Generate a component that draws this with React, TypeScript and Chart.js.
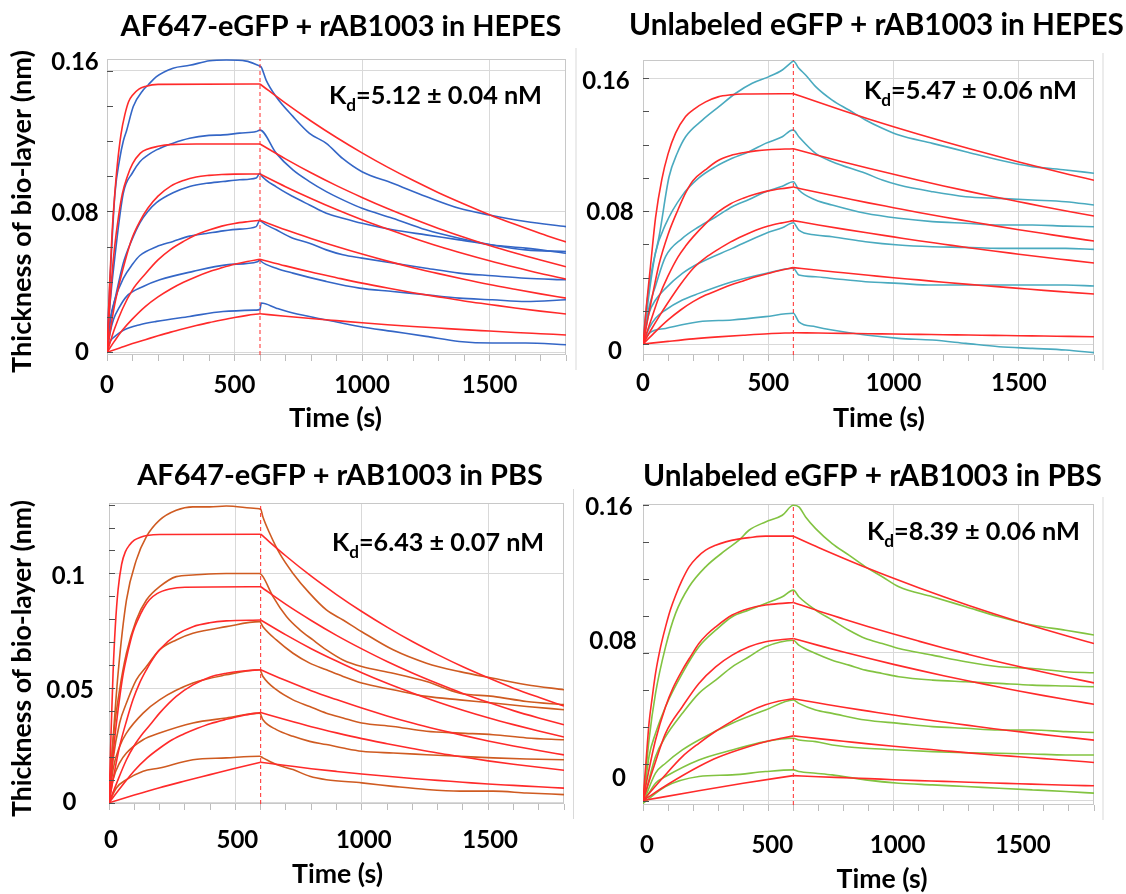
import React, { useEffect, useRef } from "react";
import { Chart, registerables } from "chart.js";
Chart.register(...registerables);

type Pt = [number, number];

const FONT = 'Lato, "Open Sans", "DejaVu Sans", sans-serif';
const FIT_COLOR = "#ff2a2a";
const GRID_COLOR = "#d9d9d9";
const FRAME_COLOR = "#c8c8c8";
const TICK_SIZE = 24;

// ---------- shared axis data ----------
const xTickValues = [0, 500, 1000, 1500];
const xTickLabels = ["0", "500", "1000", "1500"];
const switchTime = 600;
const dissocTimes = [600, 700, 800, 900, 1000, 1100, 1200, 1300, 1400, 1500, 1600, 1700, 1800];

const panelTitles = [
  "AF647-eGFP + rAB1003 in HEPES",
  "Unlabeled eGFP + rAB1003 in HEPES",
  "AF647-eGFP + rAB1003 in PBS",
  "Unlabeled eGFP + rAB1003 in PBS",
];
const kdTexts = ["=5.12 ± 0.04 nM", "=5.47 ± 0.06 nM", "=6.43 ± 0.07 nM", "=8.39 ± 0.06 nM"];
const yAxisTitle = "Thickness of bio-layer (nm)";
const xAxisTitle = "Time (s)";

const p1YTicks = [0, 0.08, 0.16];
const p1YTickLabels = ["0", "0.08", "0.16"];
const p2YTicks = [0, 0.08, 0.16];
const p2YTickLabels = ["0", "0.08", "0.16"];
const p3YTicks = [0, 0.05, 0.1];
const p3YTickLabels = ["0", "0.05", "0.1"];
const p4YTicks = [0, 0.08, 0.16];
const p4YTickLabels = ["0", "0.08", "0.16"];

// ---------- panel 1: AF647-eGFP in HEPES ----------
const p1Traces: Pt[][] = [
  [[0,0],[5,0.02],[15,0.05],[31,0.09],[50,0.11],[64,0.12],[77,0.126],[103,0.1396],[142,0.149],[162,0.152],[194,0.1566],[259,0.1614],[324,0.163],[403,0.1656],[468,0.166],[546,0.1654],[592,0.163],[600,0.1625],[605,0.162],[624,0.1546],[664,0.145],[729,0.134],[794,0.1244],[860,0.1187],[925,0.11],[1000,0.1026],[1120,0.096],[1251,0.0885],[1381,0.0818],[1500,0.078],[1642,0.0743],[1800,0.0714]],
  [[0,0],[5,0.015],[12,0.028],[31,0.0545],[64,0.0904],[100,0.102],[129,0.1083],[160,0.112],[194,0.115],[259,0.1188],[324,0.1216],[400,0.1232],[455,0.1235],[520,0.1245],[585,0.1254],[600,0.1262],[664,0.113],[729,0.1036],[794,0.097],[860,0.0913],[925,0.0866],[1000,0.0818],[1120,0.0762],[1251,0.0696],[1381,0.0648],[1511,0.061],[1642,0.0582],[1800,0.0573]],
  [[0,0],[12,0.0168],[31,0.0299],[64,0.0508],[95,0.063],[129,0.0736],[160,0.08],[194,0.085],[259,0.0906],[324,0.0942],[390,0.096],[455,0.097],[520,0.098],[585,0.099],[600,0.1017],[605,0.1005],[664,0.094],[729,0.0885],[794,0.0837],[860,0.079],[925,0.0762],[1000,0.0733],[1120,0.0696],[1251,0.0667],[1381,0.0639],[1511,0.061],[1642,0.0592],[1800,0.0563]],
  [[0,0],[12,0.018],[31,0.03],[64,0.042],[100,0.05],[129,0.055],[194,0.06],[259,0.063],[324,0.066],[390,0.0675],[455,0.069],[520,0.07],[585,0.0714],[600,0.0752],[605,0.0743],[664,0.0696],[729,0.0648],[794,0.062],[860,0.0582],[925,0.0554],[1000,0.0535],[1120,0.0507],[1251,0.0478],[1381,0.045],[1511,0.0435],[1642,0.0421],[1800,0.0412]],
  [[0,0],[12,0.011],[25,0.0185],[50,0.026],[77,0.0318],[142,0.0374],[207,0.0412],[338,0.046],[468,0.0497],[590,0.0515],[600,0.0525],[605,0.0516],[664,0.0478],[729,0.045],[859,0.0403],[990,0.0365],[1120,0.0346],[1251,0.0327],[1381,0.0308],[1511,0.0299],[1642,0.0289],[1800,0.0299]],
  [[0,0],[12,0.006],[31,0.0091],[64,0.0125],[129,0.0157],[194,0.0176],[324,0.0204],[455,0.0232],[585,0.024],[600,0.0245],[605,0.028],[664,0.0251],[729,0.0223],[859,0.0185],[990,0.0147],[1120,0.0119],[1251,0.0091],[1381,0.0062],[1511,0.0053],[1642,0.0053],[1800,0.0043]],
];
const p1FitAssoc: Pt[][] = [
  [[0,0],[10,0.038],[20,0.068],[30,0.089],[40,0.106],[55,0.124],[70,0.135],[85,0.1425],[100,0.146],[125,0.1495],[150,0.151],[200,0.1522],[600,0.1524]],
  [[0,0],[10,0.025],[20,0.045],[30,0.06],[45,0.077],[60,0.09],[80,0.1],[100,0.107],[130,0.113],[160,0.1155],[200,0.117],[250,0.118],[350,0.1183],[600,0.1183]],
  [[0,0],[15,0.0145],[30,0.027],[50,0.04],[75,0.054],[100,0.0655],[130,0.0747],[160,0.0818],[200,0.0887],[250,0.0944],[300,0.0976],[350,0.0996],[400,0.1005],[450,0.101],[500,0.1012],[600,0.1013]],
  [[0,0],[30,0.0135],[60,0.0245],[100,0.0355],[150,0.0445],[200,0.0525],[250,0.0585],[300,0.063],[350,0.0668],[400,0.0695],[450,0.0717],[500,0.0732],[550,0.0742],[600,0.075]],
  [[0,0],[30,0.0065],[60,0.0125],[100,0.019],[150,0.026],[200,0.0315],[250,0.036],[300,0.0398],[350,0.043],[400,0.0458],[450,0.048],[500,0.05],[550,0.0516],[600,0.0529]],
  [[0,0],[50,0.0025],[100,0.005],[150,0.0072],[200,0.0094],[250,0.0115],[300,0.0134],[350,0.0152],[400,0.0169],[450,0.0184],[500,0.0198],[550,0.021],[600,0.0219]],
];
const p1FitDissoc: number[][] = [
  [0.1524,0.1415,0.1314,0.122,0.1133,0.1052,0.0977,0.0907,0.0843,0.0782,0.0727,0.0675,0.0627],
  [0.1183,0.1099,0.102,0.0947,0.088,0.0817,0.0759,0.0704,0.0654,0.0607,0.0564,0.0524,0.0486],
  [0.1013,0.0941,0.0874,0.0811,0.0753,0.07,0.065,0.0603,0.056,0.052,0.0483,0.0448,0.0416],
  [0.075,0.0696,0.0647,0.0601,0.0558,0.0518,0.0481,0.0447,0.0415,0.0385,0.0358,0.0332,0.0308],
  [0.0529,0.0491,0.0456,0.0424,0.0393,0.0365,0.0339,0.0315,0.0292,0.0272,0.0252,0.0234,0.0218],
  [0.0219,0.0205,0.0192,0.018,0.0168,0.0157,0.0147,0.0138,0.0129,0.0121,0.0113,0.0106,0.0099],
];

// ---------- panel 2: Unlabeled eGFP in HEPES ----------
const p2Traces: Pt[][] = [
  [[0,0],[12,0.02],[24,0.034],[37,0.046],[64,0.0646],[104,0.1007],[137,0.115],[170,0.1248],[237,0.1348],[303,0.1429],[370,0.151],[436,0.157],[503,0.161],[556,0.165],[596,0.17],[600,0.1704],[622,0.166],[649,0.162],[689,0.155],[755,0.1469],[822,0.1409],[888,0.1349],[955,0.1299],[1021,0.1258],[1155,0.1208],[1288,0.1158],[1421,0.1108],[1554,0.1068],[1687,0.1048],[1800,0.1028]],
  [[0,0],[24,0.03],[50,0.055],[90,0.072],[157,0.0895],[223,0.1],[290,0.1068],[356,0.1118],[423,0.1158],[489,0.1208],[556,0.1248],[596,0.1288],[600,0.1288],[622,0.1248],[689,0.1148],[755,0.1098],[888,0.1028],[955,0.0987],[1021,0.0957],[1155,0.0917],[1288,0.0887],[1421,0.0877],[1554,0.0867],[1687,0.0857],[1800,0.0837]],
  [[0,0],[24,0.022],[50,0.035],[90,0.0526],[157,0.0636],[223,0.0706],[290,0.0765],[356,0.0827],[423,0.087],[489,0.0917],[556,0.095],[600,0.0977],[622,0.0927],[689,0.0867],[755,0.0837],[888,0.0787],[1021,0.0757],[1155,0.0737],[1288,0.0727],[1421,0.0717],[1554,0.0717],[1687,0.071],[1800,0.0706]],
  [[0,0],[24,0.0185],[50,0.0265],[90,0.0335],[157,0.0425],[223,0.0486],[356,0.0576],[489,0.0666],[556,0.07],[600,0.073],[622,0.0686],[689,0.0656],[755,0.0646],[888,0.0616],[1021,0.0596],[1155,0.0586],[1288,0.0582],[1421,0.0576],[1554,0.0576],[1687,0.0576],[1800,0.057]],
  [[0,0],[24,0.0094],[50,0.0155],[90,0.0205],[157,0.0265],[223,0.0305],[356,0.0375],[489,0.0425],[600,0.0456],[622,0.0415],[689,0.0405],[755,0.0395],[888,0.0375],[1021,0.0365],[1155,0.0355],[1288,0.0355],[1421,0.0355],[1554,0.0355],[1687,0.0355],[1800,0.0349]],
  [[0,0],[24,0.0064],[90,0.0094],[223,0.0134],[356,0.0145],[489,0.0165],[600,0.0185],[622,0.0134],[689,0.0104],[755,0.0084],[888,0.0054],[1021,0.0034],[1155,0.0024],[1288,0.0004],[1421,-0.0016],[1554,-0.0026],[1687,-0.0036],[1800,-0.0052]],
];
const p2FitAssoc: Pt[][] = [
  [[0,0],[15,0.025],[30,0.047],[50,0.076],[75,0.099],[100,0.1145],[130,0.127],[170,0.137],[200,0.141],[250,0.1458],[300,0.1488],[350,0.15],[400,0.1505],[600,0.1507]],
  [[0,0],[20,0.016],[40,0.031],[64,0.048],[100,0.066],[140,0.081],[170,0.091],[200,0.0985],[250,0.105],[300,0.1105],[350,0.1135],[400,0.1152],[450,0.1163],[500,0.117],[600,0.1176]],
  [[0,0],[30,0.0135],[64,0.0285],[100,0.041],[140,0.0525],[170,0.059],[200,0.0645],[250,0.0725],[300,0.0795],[350,0.0845],[400,0.0878],[450,0.0903],[500,0.0922],[550,0.0935],[600,0.0945]],
  [[0,0],[30,0.008],[64,0.0165],[100,0.025],[150,0.036],[200,0.0455],[250,0.052],[300,0.057],[350,0.0615],[400,0.0652],[450,0.0685],[500,0.071],[550,0.0728],[600,0.0743]],
  [[0,0],[50,0.0075],[100,0.0145],[150,0.0205],[200,0.0255],[250,0.0295],[300,0.0325],[350,0.0355],[400,0.038],[450,0.0405],[500,0.0425],[550,0.0444],[600,0.046]],
  [[0,0],[100,0.0016],[200,0.0031],[300,0.0043],[400,0.0053],[500,0.0062],[600,0.0068]],
];
const p2FitDissoc: number[][] = [
  [0.1507,0.1455,0.1404,0.1355,0.1308,0.1263,0.1219,0.1177,0.1136,0.1096,0.1058,0.1021,0.0986],
  [0.1176,0.1135,0.1096,0.1058,0.1022,0.0986,0.0952,0.0919,0.0887,0.0857,0.0827,0.0798,0.0771],
  [0.0945,0.0912,0.0881,0.085,0.0821,0.0792,0.0765,0.0739,0.0713,0.0688,0.0665,0.0642,0.062],
  [0.0743,0.0717,0.0692,0.0668,0.0645,0.0622,0.0601,0.058,0.056,0.0541,0.0522,0.0505,0.0488],
  [0.046,0.0444,0.0429,0.0414,0.0399,0.0386,0.0372,0.0359,0.0347,0.0335,0.0323,0.0312,0.0301],
  [0.0068,0.0066,0.0064,0.0062,0.006,0.0058,0.0056,0.0054,0.0052,0.005,0.0048,0.0046,0.0044],
];

// ---------- panel 3: AF647-eGFP in PBS ----------
const p3Traces: Pt[][] = [
  [[0,0],[16,0.0275],[36,0.0565],[69,0.0884],[108,0.1058],[148,0.116],[200,0.1232],[266,0.1275],[332,0.129],[398,0.129],[464,0.1294],[583,0.1283],[600,0.128],[609,0.1246],[636,0.1174],[675,0.1087],[728,0.1],[794,0.0913],[860,0.0841],[926,0.0797],[1000,0.0746],[1124,0.0667],[1256,0.0609],[1388,0.0572],[1520,0.0543],[1652,0.0515],[1800,0.0493]],
  [[0,0],[16,0.0275],[42,0.0493],[69,0.0652],[108,0.0797],[148,0.0884],[200,0.0942],[266,0.0986],[332,0.0993],[464,0.1],[596,0.1],[609,0.0986],[649,0.0899],[702,0.0812],[755,0.0754],[807,0.071],[860,0.0667],[926,0.0623],[1000,0.0594],[1124,0.0565],[1256,0.0529],[1388,0.0478],[1520,0.0464],[1652,0.0442],[1800,0.0428]],
  [[0,0],[16,0.0188],[42,0.0348],[69,0.0435],[108,0.0536],[148,0.0594],[200,0.0667],[266,0.071],[332,0.0739],[464,0.0768],[596,0.079],[609,0.0768],[662,0.071],[728,0.0652],[794,0.0609],[860,0.058],[926,0.0551],[1000,0.0522],[1124,0.0493],[1256,0.0464],[1388,0.0449],[1520,0.0435],[1652,0.042],[1800,0.0406]],
  [[0,0],[16,0.0145],[42,0.0246],[69,0.0304],[135,0.0391],[200,0.0449],[332,0.0522],[464,0.0558],[596,0.058],[609,0.0551],[662,0.0493],[728,0.0449],[794,0.042],[860,0.0391],[926,0.037],[1000,0.0348],[1124,0.0333],[1256,0.0312],[1388,0.0304],[1520,0.0297],[1652,0.0283],[1800,0.0275]],
  [[0,0],[16,0.0101],[42,0.0174],[69,0.0217],[135,0.0275],[200,0.0304],[332,0.0348],[464,0.037],[596,0.0391],[609,0.0362],[662,0.0319],[728,0.029],[794,0.0268],[860,0.0254],[926,0.0239],[1000,0.0225],[1124,0.0217],[1256,0.021],[1388,0.0203],[1520,0.0196],[1652,0.0191],[1800,0.0188]],
  [[0,0],[29,0.0065],[69,0.0101],[135,0.0138],[200,0.0152],[332,0.0188],[464,0.0196],[596,0.0203],[609,0.0196],[662,0.0167],[728,0.0145],[794,0.0116],[860,0.0101],[1000,0.0087],[1124,0.0072],[1256,0.0058],[1388,0.0051],[1520,0.0051],[1652,0.0043],[1800,0.0036]],
];
const p3FitAssoc: Pt[][] = [
  [[0,0],[8,0.03],[16,0.0565],[25,0.077],[36,0.093],[50,0.104],[65,0.1095],[82,0.1125],[100,0.1145],[125,0.1158],[150,0.1165],[200,0.117],[600,0.1171]],
  [[0,0],[10,0.013],[22,0.0275],[40,0.044],[55,0.0555],[75,0.066],[95,0.0745],[115,0.08],[135,0.0845],[160,0.0885],[190,0.0912],[240,0.0932],[300,0.094],[600,0.0942]],
  [[0,0],[20,0.0125],[42,0.0246],[70,0.036],[95,0.045],[120,0.052],[148,0.058],[175,0.063],[200,0.0667],[266,0.0732],[332,0.0768],[398,0.0785],[464,0.0793],[600,0.0797]],
  [[0,0],[30,0.0085],[69,0.0188],[100,0.025],[135,0.0304],[170,0.035],[200,0.0391],[266,0.0464],[332,0.0514],[398,0.0548],[464,0.0565],[530,0.0575],[600,0.058]],
  [[0,0],[50,0.0072],[100,0.014],[150,0.0195],[200,0.0238],[250,0.0275],[300,0.0302],[350,0.0325],[400,0.0345],[464,0.0364],[530,0.0381],[600,0.0394]],
  [[0,0],[100,0.0034],[200,0.0066],[300,0.0095],[400,0.0123],[500,0.0151],[600,0.0177]],
];
const p3FitDissoc: number[][] = [
  [0.1171,0.1076,0.0988,0.0908,0.0834,0.0766,0.0703,0.0646,0.0593,0.0545,0.05,0.046,0.0422],
  [0.0942,0.0865,0.0795,0.073,0.0671,0.0616,0.0566,0.052,0.0477,0.0438,0.0402,0.037,0.034],
  [0.0797,0.0732,0.0672,0.0618,0.0567,0.0521,0.0479,0.044,0.0404,0.0371,0.0341,0.0313,0.0287],
  [0.058,0.0533,0.0489,0.045,0.0413,0.0379,0.0348,0.032,0.0294,0.027,0.0248,0.0228,0.0209],
  [0.0394,0.0362,0.0332,0.0305,0.028,0.0258,0.0237,0.0217,0.02,0.0183,0.0168,0.0155,0.0142],
  [0.0177,0.0163,0.0149,0.0137,0.0126,0.0116,0.0106,0.0098,0.009,0.0082,0.0076,0.007,0.0064],
];

// ---------- panel 4: Unlabeled eGFP in PBS ----------
const p4Traces: Pt[][] = [
  [[0,-0.0015],[24,0.0328],[50,0.058],[90,0.0832],[130,0.1013],[184,0.1157],[250,0.1265],[330,0.1355],[383,0.1409],[423,0.1463],[489,0.1508],[556,0.1544],[600,0.1598],[622,0.1589],[649,0.1535],[689,0.1472],[755,0.1391],[822,0.1328],[888,0.1265],[955,0.1211],[1021,0.1157],[1155,0.1103],[1288,0.1049],[1421,0.0995],[1554,0.095],[1687,0.0922],[1800,0.0896]],
  [[0,-0.0015],[24,0.0238],[50,0.0364],[90,0.0508],[157,0.0688],[223,0.0832],[290,0.0922],[356,0.0995],[423,0.1031],[489,0.1067],[556,0.1103],[600,0.1139],[622,0.1103],[689,0.1031],[755,0.0977],[822,0.0922],[888,0.0877],[955,0.085],[1021,0.0823],[1155,0.0787],[1288,0.0751],[1421,0.0724],[1554,0.0715],[1687,0.0697],[1800,0.0692]],
  [[0,-0.0015],[50,0.0238],[90,0.0346],[157,0.0472],[223,0.058],[290,0.0652],[356,0.0724],[423,0.0778],[489,0.0832],[600,0.0868],[622,0.0841],[689,0.0796],[755,0.076],[822,0.0733],[888,0.0706],[955,0.0688],[1021,0.067],[1155,0.0652],[1288,0.0643],[1421,0.0634],[1554,0.0625],[1687,0.062],[1800,0.0616]],
  [[0,-0.0015],[50,0.0148],[90,0.0202],[157,0.0274],[223,0.0328],[356,0.0418],[489,0.049],[600,0.0544],[622,0.0526],[689,0.049],[755,0.0472],[888,0.0436],[1021,0.0418],[1155,0.04],[1288,0.0391],[1421,0.0382],[1554,0.0382],[1687,0.0373],[1800,0.0368]],
  [[0,-0.0015],[50,0.0094],[90,0.013],[223,0.022],[356,0.0274],[489,0.0319],[600,0.0337],[622,0.0328],[689,0.0319],[755,0.0301],[888,0.0283],[1021,0.0274],[1155,0.0265],[1288,0.0259],[1421,0.0256],[1554,0.0252],[1687,0.0247],[1800,0.0247]],
  [[0,-0.0015],[90,0.0076],[223,0.013],[356,0.0139],[489,0.0157],[600,0.0166],[622,0.0157],[689,0.0148],[755,0.0139],[888,0.0112],[1021,0.0094],[1155,0.0085],[1288,0.0076],[1421,0.0067],[1554,0.0058],[1687,0.0049],[1800,0.004]],
];
const p4FitAssoc: Pt[][] = [
  [[0,0],[12,0.021],[24,0.0418],[37,0.056],[50,0.0688],[70,0.083],[90,0.094],[110,0.1035],[130,0.111],[155,0.119],[184,0.1265],[215,0.1315],[250,0.1355],[290,0.1382],[330,0.14],[380,0.1415],[423,0.1423],[489,0.1431],[600,0.1431]],
  [[0,0],[25,0.0175],[50,0.0328],[90,0.0508],[120,0.061],[157,0.0706],[190,0.078],[223,0.085],[256,0.09],[290,0.094],[356,0.1004],[423,0.104],[489,0.1058],[540,0.1066],[600,0.1072]],
  [[0,0],[45,0.019],[90,0.0364],[157,0.0508],[223,0.0634],[290,0.0724],[356,0.0787],[423,0.0832],[489,0.0859],[540,0.0869],[600,0.0877]],
  [[0,0],[80,0.0125],[157,0.0238],[223,0.031],[290,0.0375],[356,0.043],[423,0.0481],[489,0.0518],[540,0.0538],[600,0.0551]],
  [[0,0],[100,0.0088],[223,0.0184],[300,0.0234],[423,0.0292],[500,0.0322],[600,0.035]],
  [[0,0],[200,0.0048],[400,0.0094],[600,0.0135]],
];
const p4FitDissoc: number[][] = [
  [0.1431,0.137,0.1312,0.1256,0.1203,0.1152,0.1103,0.1056,0.1011,0.0968,0.0927,0.0888,0.085],
  [0.1072,0.1026,0.0983,0.0941,0.0901,0.0863,0.0826,0.0791,0.0757,0.0725,0.0694,0.0665,0.0637],
  [0.0877,0.084,0.0804,0.077,0.0737,0.0706,0.0676,0.0647,0.062,0.0593,0.0568,0.0544,0.0521],
  [0.0551,0.0528,0.0505,0.0484,0.0463,0.0443,0.0425,0.0407,0.0389,0.0373,0.0357,0.0342,0.0327],
  [0.035,0.0335,0.0321,0.0307,0.0294,0.0282,0.027,0.0258,0.0247,0.0237,0.0227,0.0217,0.0206],
  [0.0135,0.0129,0.0124,0.0119,0.0113,0.0108,0.0104,0.0099,0.0095,0.0091,0.0087,0.0083,0.008],
];

// ---------- layout / style per panel ----------
interface PanelCfg {
  left: number; top: number; width: number; height: number;
  area: { left: number; top: number; right: number; bottom: number };
  yMin: number; yMax: number; yMinorStep: number;
  yTicks: number[]; yTickLabels: string[]; yLabelX: number[]; yLabelDy: number[];
  xLabelBase: number; xLabelDx: number;
  traces: Pt[][]; fitAssoc: Pt[][]; fitDissoc: number[][];
  color: string;
  title: string; titleX: number; titleBase: number; titleW: number;
  kd: string; kdX: number; kdBase: number; kdW: number;
  xTitleX: number; xTitleBase: number; xTitleW: number;
  yTitle: null | { x: number; y: number; w: number };
  frameLines: { x: number; y1: number; y2: number }[];
}

const panels: PanelCfg[] = [
  {
    left: 0, top: 0, width: 580, height: 440,
    area: { left: 107, top: 59, right: 566, bottom: 355 },
    yMin: -0.0015, yMax: 0.1666, yMinorStep: 0.02,
    yTicks: p1YTicks, yTickLabels: p1YTickLabels, yLabelX: [82, 75, 75], yLabelDy: [-1, 1, -9.3],
    xLabelBase: 393, xLabelDx: 0,
    traces: p1Traces, fitAssoc: p1FitAssoc, fitDissoc: p1FitDissoc, color: "#3466c6",
    title: panelTitles[0], titleX: 341, titleBase: 36, titleW: 441,
    kd: kdTexts[0], kdX: 329, kdBase: 104, kdW: 213,
    xTitleX: 335.5, xTitleBase: 427, xTitleW: 93,
    yTitle: { x: 31, y: 211.5, w: 323 },
    frameLines: [{ x: 576, y1: 48, y2: 370 }],
  },
  {
    left: 570, top: 0, width: 556, height: 440,
    area: { left: 73, top: 60, right: 524, bottom: 355 },
    yMin: -0.0066, yMax: 0.171, yMinorStep: 0.02,
    yTicks: p2YTicks, yTickLabels: p2YTickLabels, yLabelX: [45, 40, 36], yLabelDy: [6, 0.3, 1.7],
    xLabelBase: 391, xLabelDx: 0,
    traces: p2Traces, fitAssoc: p2FitAssoc, fitDissoc: p2FitDissoc, color: "#4aaabf",
    title: panelTitles[1], titleX: 306.5, titleBase: 35, titleW: 495,
    kd: kdTexts[1], kdX: 294, kdBase: 99, kdW: 213,
    xTitleX: 309, xTitleBase: 427, xTitleW: 92,
    yTitle: null,
    frameLines: [{ x: 533, y1: 53, y2: 370 }],
  },
  {
    left: 0, top: 440, width: 580, height: 454,
    area: { left: 109, top: 63, right: 564, bottom: 364 },
    yMin: -0.0005, yMax: 0.1307, yMinorStep: 0.01,
    yTicks: p3YTicks, yTickLabels: p3YTickLabels, yLabelX: [69.5, 70, 68.5], yLabelDy: [-1.6, 1, 1.7],
    xLabelBase: 408, xLabelDx: 2,
    traces: p3Traces, fitAssoc: p3FitAssoc, fitDissoc: p3FitDissoc, color: "#cf5b21",
    title: panelTitles[2], titleX: 340, titleBase: 45, titleW: 406,
    kd: kdTexts[2], kdX: 332, kdBase: 111, kdW: 212,
    xTitleX: 337.5, xTitleBase: 443, xTitleW: 91,
    yTitle: { x: 31, y: 218.5, w: 317 },
    frameLines: [{ x: 573.5, y1: 49, y2: 379 }],
  },
  {
    left: 570, top: 440, width: 556, height: 454,
    area: { left: 73, top: 64, right: 524, bottom: 365 },
    yMin: -0.0024, yMax: 0.1605, yMinorStep: 0.02,
    yTicks: p4YTicks, yTickLabels: p4YTickLabels, yLabelX: [49, 43, 39], yLabelDy: [-22.7, -12.7, 1.7],
    xLabelBase: 412.5, xLabelDx: 4,
    traces: p4Traces, fitAssoc: p4FitAssoc, fitDissoc: p4FitDissoc, color: "#82c341",
    title: panelTitles[3], titleX: 302.5, titleBase: 46, titleW: 459,
    kd: kdTexts[3], kdX: 297, kdBase: 100, kdW: 213,
    xTitleX: 312, xTitleBase: 448, xTitleW: 91,
    yTitle: null,
    frameLines: [{ x: 533, y1: 57, y2: 380 }],
  },
];

function fittedFont(ctx: CanvasRenderingContext2D, text: string, targetW: number): number {
  ctx.font = `bold 24px ${FONT}`;
  const w = ctx.measureText(text).width;
  return w > 0 ? (24 * targetW) / w : 24;
}

function drawKd(ctx: CanvasRenderingContext2D, rest: string, x: number, base: number, targetW: number) {
  const s0 = 24, sub = 0.68;
  ctx.font = `bold ${s0}px ${FONT}`;
  const wK = ctx.measureText("K").width;
  const wR = ctx.measureText(rest).width;
  ctx.font = `bold ${s0 * sub}px ${FONT}`;
  const wd = ctx.measureText("d").width;
  const k = targetW / (wK + wd + wR);
  const s = s0 * k;
  ctx.textAlign = "left";
  ctx.textBaseline = "alphabetic";
  ctx.font = `bold ${s}px ${FONT}`;
  ctx.fillText("K", x, base);
  ctx.font = `bold ${s * sub}px ${FONT}`;
  ctx.fillText("d", x + wK * k, base + s * 0.26);
  ctx.font = `bold ${s}px ${FONT}`;
  ctx.fillText(rest, x + (wK + wd) * k, base);
}

function makeDecor(cfg: PanelCfg) {
  return {
    id: "decor",
    beforeDatasetsDraw(chart: any) {
      const { ctx, chartArea: a } = chart;
      ctx.save();
      ctx.strokeStyle = FRAME_COLOR;
      ctx.lineWidth = 1;
      ctx.strokeRect(Math.round(a.left) + 0.5, Math.round(a.top) + 0.5, Math.round(a.right - a.left) - 1, Math.round(a.bottom - a.top) - 1);
      ctx.restore();
    },
    afterDraw(chart: any) {
      const ctx: CanvasRenderingContext2D = chart.ctx;
      const a = chart.chartArea;
      const ys = chart.scales.y;
      const xs = chart.scales.x;
      ctx.save();
      ctx.strokeStyle = "#505050";
      ctx.lineWidth = 1;
      for (let k = 0; k * cfg.yMinorStep <= cfg.yMax + 1e-9; k++) {
        const py = Math.round(ys.getPixelForValue(k * cfg.yMinorStep)) + 0.5;
        ctx.beginPath();
        ctx.moveTo(a.left, py);
        ctx.lineTo(a.left + 6, py);
        ctx.stroke();
      }
      ctx.strokeStyle = GRID_COLOR;
      cfg.frameLines.forEach((f) => {
        ctx.beginPath();
        ctx.moveTo(f.x, f.y1);
        ctx.lineTo(f.x, f.y2);
        ctx.stroke();
      });
      ctx.fillStyle = "#000";
      ctx.textBaseline = "alphabetic";
      ctx.textAlign = "center";
      ctx.font = `bold ${TICK_SIZE}px ${FONT}`;
      cfg.yTicks.forEach((v, i) => {
        ctx.fillText(cfg.yTickLabels[i], cfg.yLabelX[i], ys.getPixelForValue(v) + cfg.yLabelDy[i] + 0.358 * TICK_SIZE);
      });
      xTickValues.forEach((v, i) => {
        ctx.fillText(xTickLabels[i], xs.getPixelForValue(v) + cfg.xLabelDx, cfg.xLabelBase);
      });
      let fs = fittedFont(ctx, cfg.title, cfg.titleW);
      ctx.font = `bold ${fs}px ${FONT}`;
      ctx.fillText(cfg.title, cfg.titleX, cfg.titleBase);
      fs = fittedFont(ctx, xAxisTitle, cfg.xTitleW);
      ctx.font = `bold ${fs}px ${FONT}`;
      ctx.fillText(xAxisTitle, cfg.xTitleX, cfg.xTitleBase);
      if (cfg.yTitle) {
        fs = fittedFont(ctx, yAxisTitle, cfg.yTitle.w);
        ctx.save();
        ctx.translate(cfg.yTitle.x, cfg.yTitle.y);
        ctx.rotate(-Math.PI / 2);
        ctx.font = `bold ${fs}px ${FONT}`;
        ctx.textAlign = "center";
        ctx.fillText(yAxisTitle, 0, 0);
        ctx.restore();
      }
      drawKd(ctx, cfg.kd, cfg.kdX, cfg.kdBase, cfg.kdW);
      ctx.restore();
    },
  };
}

function buildChart(canvas: HTMLCanvasElement, cfg: PanelCfg) {
  const fitStyle = { borderColor: FIT_COLOR, borderWidth: 1.6, pointRadius: 0, cubicInterpolationMode: "monotone" as const, fill: false };
  const datasets: any[] = [];
  cfg.fitAssoc.forEach((pts) => datasets.push({ ...fitStyle, data: pts.map(([x, y]) => ({ x, y })) }));
  cfg.fitDissoc.forEach((vals) => datasets.push({ ...fitStyle, data: dissocTimes.map((t, i) => ({ x: t, y: vals[i] })) }));
  datasets.push({
    data: [{ x: switchTime, y: cfg.yMin }, { x: switchTime, y: cfg.yMax }],
    borderColor: FIT_COLOR, borderWidth: 1, borderDash: [4, 3], pointRadius: 0, fill: false,
  });
  cfg.traces.forEach((pts) =>
    datasets.push({
      data: pts.map(([x, y]) => ({ x, y })), borderColor: cfg.color, borderWidth: 1.6,
      pointRadius: 0, cubicInterpolationMode: "monotone", fill: false,
    })
  );
  const yTicks = cfg.yTicks;
  return new Chart(canvas, {
    type: "line",
    data: { datasets },
    plugins: [makeDecor(cfg)],
    options: {
      animation: false,
      responsive: false,
      events: [],
      layout: { padding: { left: 0, top: cfg.area.top, right: cfg.width - cfg.area.right, bottom: 0 } },
      plugins: { legend: { display: false }, tooltip: { enabled: false }, title: { display: false } },
      scales: {
        x: {
          type: "linear", min: 0, max: 1800,
          afterFit: (s: any) => { s.height = cfg.height - cfg.area.bottom; },
          ticks: { stepSize: 100, display: false, autoSkip: false },
          grid: {
            color: (c: any) => {
              const v = c.tick ? c.tick.value : 0;
              return v > 0 && v < 1800 && v % 500 === 0 ? GRID_COLOR : "rgba(0,0,0,0)";
            },
            tickColor: "#bdbdbd", tickLength: 6, drawTicks: true, lineWidth: 1,
          },
          border: { display: false },
        },
        y: {
          type: "linear", min: cfg.yMin, max: cfg.yMax,
          afterFit: (s: any) => { s.width = cfg.area.left; },
          afterBuildTicks: (s: any) => { s.ticks = yTicks.map((v) => ({ value: v })); },
          ticks: { display: false },
          grid: { color: GRID_COLOR, drawTicks: false, lineWidth: 1 },
          border: { display: false },
        },
      },
    } as any,
  });
}

function Panel({ cfg }: { cfg: PanelCfg }) {
  const ref = useRef<HTMLCanvasElement | null>(null);
  useEffect(() => {
    if (!ref.current) return;
    const chart = buildChart(ref.current, cfg);
    let alive = true;
    if ((document as any).fonts && (document as any).fonts.load) {
      (document as any).fonts.load(`bold 24px Lato`).then(() => { if (alive) chart.draw(); }).catch(() => {});
    }
    return () => { alive = false; chart.destroy(); };
  }, [cfg]);
  return (
    <canvas
      ref={ref}
      width={cfg.width}
      height={cfg.height}
      style={{ position: "absolute", left: cfg.left, top: cfg.top, width: cfg.width, height: cfg.height }}
    />
  );
}

export default function App() {
  return (
    <div style={{ position: "fixed", left: 0, top: 0, width: 1126, height: 894, background: "#ffffff", overflow: "hidden" }}>
      {panels.map((p, i) => (
        <Panel key={i} cfg={p} />
      ))}
    </div>
  );
}
